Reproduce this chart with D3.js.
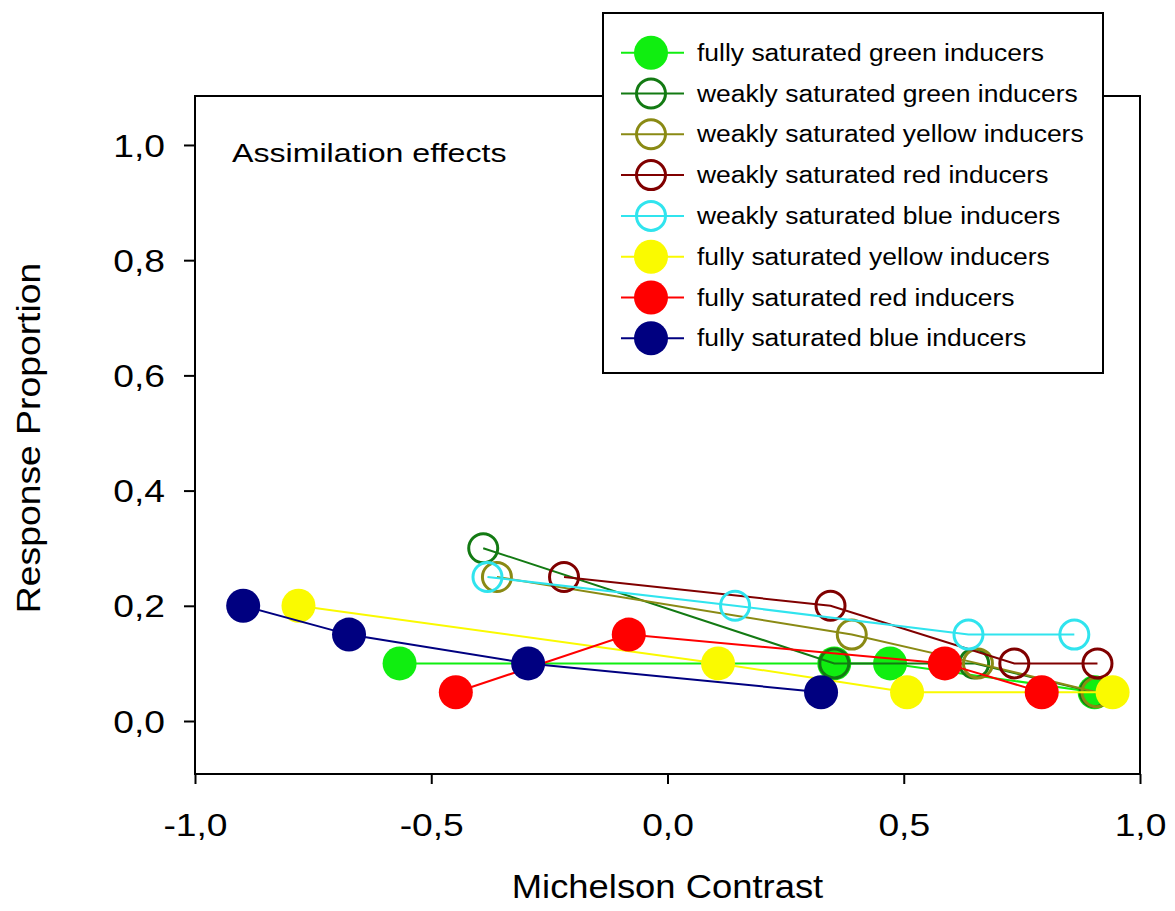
<!DOCTYPE html>
<html>
<head>
<meta charset="utf-8">
<script src="https://cdn.jsdelivr.net/npm/d3@7/dist/d3.min.js"></script>
<style>
  html, body { margin: 0; padding: 0; background: #fff; }
  svg { display: block; }
  text { font-family: "Liberation Sans", Arial, sans-serif; fill: #000; }
</style>
</head>
<body>
<svg id="chart" width="1175" height="911"></svg>
<script>
// ---------------- data ----------------
const seriesNames = [
  "fully saturated green inducers",
  "weakly saturated green inducers",
  "weakly saturated yellow inducers",
  "weakly saturated red inducers",
  "weakly saturated blue inducers",
  "fully saturated yellow inducers",
  "fully saturated red inducers",
  "fully saturated blue inducers"
];
const xFullGreen   = [-0.567, 0.353, 0.471, 0.904];
const yFullGreen   = [0.10, 0.10, 0.10, 0.05];
const xWeakGreen   = [-0.390, 0.353, 0.649, 0.904];
const yWeakGreen   = [0.30, 0.10, 0.10, 0.05];
const xWeakYellow  = [-0.361, 0.390, 0.657, 0.908];
const yWeakYellow  = [0.25, 0.15, 0.10, 0.05];
const xWeakRed     = [-0.219, 0.345, 0.734, 0.910];
const yWeakRed     = [0.25, 0.20, 0.10, 0.10];
const xWeakBlue    = [-0.381, 0.143, 0.637, 0.861];
const yWeakBlue    = [0.25, 0.20, 0.15, 0.15];
const xFullYellow  = [-0.781, 0.107, 0.507, 0.942];
const yFullYellow  = [0.20, 0.10, 0.05, 0.05];
const xFullRed     = [-0.448, -0.082, 0.587, 0.792];
const yFullRed     = [0.05, 0.15, 0.10, 0.05];
const xFullBlue    = [-0.898, -0.674, -0.295, 0.325];
const yFullBlue    = [0.20, 0.15, 0.10, 0.05];

const xTicks = [-1, -0.5, 0, 0.5, 1];
const xTickLabels = ["-1,0", "-0,5", "0,0", "0,5", "1,0"];
const yTicks = [0, 0.2, 0.4, 0.6, 0.8, 1.0];
const yTickLabels = ["0,0", "0,2", "0,4", "0,6", "0,8", "1,0"];

const xTitle = "Michelson Contrast";
const yTitle = "Response Proportion";
const annotation = "Assimilation effects";

// ---------------- styles ----------------
const seriesColors = ["#10ee10", "#137a13", "#8a8a14", "#800000", "#30e4ee", "#fafa00", "#ff0000", "#000080"];
const seriesFilled = [true, false, false, false, false, true, true, true];

const seriesX = [xFullGreen, xWeakGreen, xWeakYellow, xWeakRed, xWeakBlue, xFullYellow, xFullRed, xFullBlue];
const seriesY = [yFullGreen, yWeakGreen, yWeakYellow, yWeakRed, yWeakBlue, yFullYellow, yFullRed, yFullBlue];
const series = seriesNames.map((name, i) => ({
  name, color: seriesColors[i], filled: seriesFilled[i],
  points: seriesX[i].map((x, j) => ({ x, y: seriesY[i][j] }))
}));

// ---------------- layout ----------------
const svg = d3.select("#chart");
const mLeft = 195, mRight = 1140, mTop = 96, mBottom = 774;

const x = d3.scaleLinear().domain([-1, 1]).range([mLeft, mRight]);
const y = d3.scaleLinear().domain([-0.092, 1.085]).range([mBottom, mTop]);

function stretch(sel, k) {
  sel.each(function () {
    const L = this.getComputedTextLength();
    this.setAttribute("textLength", L * k);
    this.setAttribute("lengthAdjust", "spacingAndGlyphs");
  });
}

// axes
const yAxis = svg.append("g")
  .attr("transform", `translate(${mLeft},0)`)
  .call(d3.axisLeft(y).tickValues(yTicks).tickFormat((d, i) => yTickLabels[i])
    .tickSize(11).tickSizeOuter(0).tickPadding(19));
yAxis.select(".domain").remove();
yAxis.selectAll(".tick line").attr("stroke", "#000").attr("stroke-width", 2);
yAxis.selectAll(".tick text").attr("font-size", 31).attr("font-family", "Liberation Sans, Arial, sans-serif")
  .attr("fill", "#000").attr("dy", "0.36em");
stretch(yAxis.selectAll(".tick text"), 1.2);

const xAxis = svg.append("g")
  .attr("transform", `translate(0,${mBottom})`)
  .call(d3.axisBottom(x).tickValues(xTicks).tickFormat((d, i) => xTickLabels[i])
    .tickSize(10).tickSizeOuter(0).tickPadding(30));
xAxis.select(".domain").remove();
xAxis.selectAll(".tick line").attr("stroke", "#000").attr("stroke-width", 2);
xAxis.selectAll(".tick text").attr("font-size", 31).attr("font-family", "Liberation Sans, Arial, sans-serif")
  .attr("fill", "#000");
stretch(xAxis.selectAll(".tick text"), 1.2);

// frame
svg.append("rect")
  .attr("x", mLeft).attr("y", mTop)
  .attr("width", mRight - mLeft).attr("height", mBottom - mTop)
  .attr("fill", "none").attr("stroke", "#000").attr("stroke-width", 2);

// axis titles
const yt = svg.append("text")
  .attr("transform", `translate(40,438) rotate(-90)`)
  .attr("text-anchor", "middle")
  .attr("font-size", 33)
  .text(yTitle);
stretch(yt, 1.13);

const xt = svg.append("text")
  .attr("x", (mLeft + mRight) / 2).attr("y", 898)
  .attr("text-anchor", "middle")
  .attr("font-size", 34)
  .text(xTitle);
stretch(xt, 1.07);

// annotation
const an = svg.append("text")
  .attr("x", 232).attr("y", 162)
  .attr("font-size", 26)
  .text(annotation);
stretch(an, 1.236);

// series
const line = d3.line().x(d => x(d.x)).y(d => y(d.y));
const plot = svg.append("g");
series.forEach(s => {
  const g = plot.append("g");
  g.append("path")
    .attr("d", line(s.points))
    .attr("fill", "none")
    .attr("stroke", s.color)
    .attr("stroke-width", 2);
  g.selectAll("circle").data(s.points).join("circle")
    .attr("cx", d => x(d.x)).attr("cy", d => y(d.y))
    .attr("r", s.filled ? 17 : 14.5)
    .attr("fill", s.filled ? s.color : "none")
    .attr("stroke", s.color)
    .attr("stroke-width", s.filled ? 0 : 3);
});

// legend
const lg = svg.append("g");
lg.append("rect")
  .attr("x", 603).attr("y", 13)
  .attr("width", 1103 - 603).attr("height", 373 - 13)
  .attr("fill", "#fff").attr("stroke", "#000").attr("stroke-width", 2);
const rowY0 = 52.7, rowStep = 40.8;
series.forEach((s, i) => {
  const cy = rowY0 + i * rowStep;
  lg.append("line")
    .attr("x1", 621).attr("x2", 684).attr("y1", cy).attr("y2", cy)
    .attr("stroke", s.color).attr("stroke-width", 2);
  lg.append("circle")
    .attr("cx", 651).attr("cy", cy)
    .attr("r", s.filled ? 17 : 14.5)
    .attr("fill", s.filled ? s.color : "none")
    .attr("stroke", s.color)
    .attr("stroke-width", s.filled ? 0 : 3);
  const t = lg.append("text")
    .attr("x", 697).attr("y", cy).attr("dy", "0.35em")
    .attr("font-size", 23)
    .text(s.name);
  stretch(t, 1.15);
});
</script>
</body>
</html>
